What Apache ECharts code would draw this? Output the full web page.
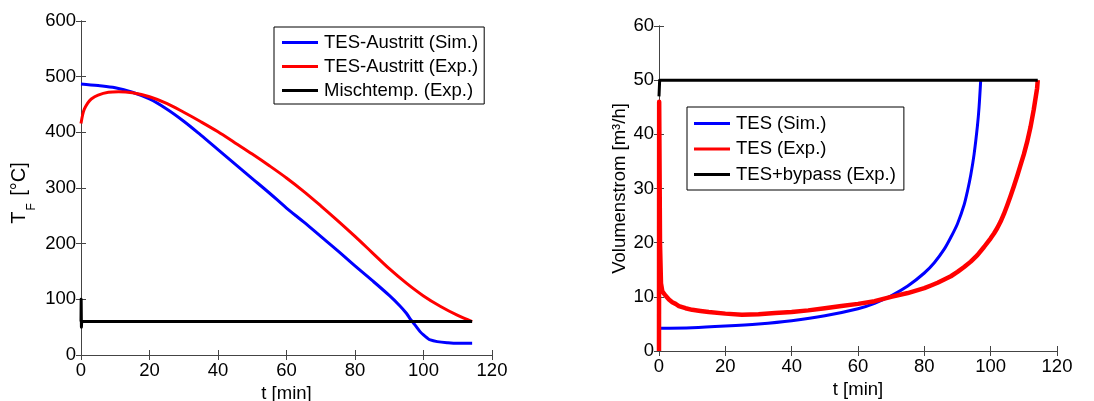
<!DOCTYPE html>
<html>
<head>
<meta charset="utf-8">
<title>TES Entladung</title>
<script src="https://cdn.jsdelivr.net/npm/echarts@6/dist/echarts.min.js"></script>
<style>
  html, body { margin: 0; padding: 0; background: #fff; }
  #chart { width: 1094px; height: 401px; }
</style>
</head>
<body>
<div id="chart"></div>
<script>
// Left panel: outlet temperature of the storage (TES) and mixing temperature
const tempSimT = [0, 5, 10, 15, 20, 25, 30, 35, 40, 45, 50, 55, 60, 65, 70, 75, 80, 85, 90, 93, 95, 96, 97, 98, 99, 100, 101, 102, 104, 107, 110, 114.2];
const tempSimV = [487, 484, 480, 472, 460, 442, 420, 395, 369, 343, 317, 291, 264, 239, 213, 187, 160, 134, 107, 89, 75, 66, 58, 50, 42, 36, 31, 27, 24, 22, 21, 21];

const tempExpT = [0, 0.5, 1, 2, 3, 5, 8, 11, 15, 20, 25, 30, 35, 40, 45, 50, 55, 60, 65, 70, 75, 80, 85, 90, 95, 100, 105, 110, 114.2];
const tempExpV = [416, 432, 442, 453, 460, 467, 472, 473, 471, 464, 452, 436, 419, 401, 381, 361, 340, 318, 294, 268, 241, 213, 184, 155, 129, 106, 87, 71, 60];

const mixT = [0, 0.05, 0.12, 0.2, 114.2];
const mixV = [60, 100, 50, 60, 60];

// Right panel: volume flow through the storage and total flow incl. bypass
const flowSimT = [0, 10, 20, 30, 40, 50, 60, 65, 70, 75, 80, 83, 86, 88, 90, 92, 93, 94, 95, 96, 96.5, 97];
const flowSimV = [4.2, 4.3, 4.6, 5.0, 5.6, 6.5, 7.8, 8.8, 10.2, 12.0, 14.4, 16.3, 18.8, 21.0, 23.5, 27.0, 29.5, 32.5, 36.3, 41.5, 45.0, 50.0];

const flowExpT = [0, 0.05, 0.3, 0.6, 1, 1.5, 2, 3, 4, 5, 6, 8, 10, 12.5, 15, 20, 25, 30, 35, 40, 45, 50, 55, 60, 65, 70, 75, 80, 82, 84, 86, 88, 90, 92, 94, 96, 98, 100, 101, 102, 103, 104, 105, 106, 107, 108, 109, 110, 111, 112, 113, 114, 114.2];
const flowExpV = [0, 46, 20, 12.5, 11, 10.6, 10.2, 9.5, 9.0, 8.7, 8.3, 7.9, 7.6, 7.4, 7.2, 6.9, 6.7, 6.8, 7.0, 7.2, 7.5, 7.9, 8.3, 8.7, 9.2, 10.0, 10.7, 11.6, 12.1, 12.6, 13.2, 13.8, 14.6, 15.5, 16.5, 17.7, 19.2, 20.8, 21.7, 22.7, 23.9, 25.3, 26.9, 28.6, 30.4, 32.3, 34.3, 36.3, 38.6, 41.3, 44.6, 48.5, 50];

const flowTotT = [0, 0.2, 114.2];
const flowTotV = [47, 50, 50];

const xTicks = { min: 0, max: 120, interval: 20 };
const tempTicks = { min: 0, max: 600, interval: 100 };
const flowTicks = { min: 0, max: 60, interval: 10 };

const pairs = (xs, ys) => xs.map((x, i) => [x, ys[i]]);

const FONT = 'Liberation Sans, Arial, sans-serif';
const AXIS_COLOR = '#444';

function mainX(grid, ticks, nameGap) {
  return {
    type: 'value', gridIndex: grid, position: 'bottom',
    min: ticks.min, max: ticks.max, interval: ticks.interval,
    name: 't [min]', nameLocation: 'middle', nameGap: nameGap,
    nameTextStyle: { fontFamily: FONT, fontSize: 18.5, color: '#000' },
    axisLine: { show: true, lineStyle: { color: AXIS_COLOR, width: 1 } },
    axisTick: { show: true, inside: true, length: 5, lineStyle: { color: AXIS_COLOR } },
    axisLabel: { fontFamily: FONT, fontSize: 18.5, color: '#000', margin: 6 },
    splitLine: { show: false }
  };
}
function mirrorX(grid, ticks) {
  return {
    type: 'value', gridIndex: grid, position: 'top',
    min: ticks.min, max: ticks.max, interval: ticks.interval,
    axisLine: { show: true, lineStyle: { color: AXIS_COLOR, width: 1 } },
    axisTick: { show: true, inside: true, length: 5, lineStyle: { color: AXIS_COLOR } },
    axisLabel: { show: false }, splitLine: { show: false }
  };
}
function mainY(grid, ticks, name, nameGap, nameStyle) {
  return {
    type: 'value', gridIndex: grid, position: 'left',
    min: ticks.min, max: ticks.max, interval: ticks.interval,
    name: name, nameLocation: 'middle', nameGap: nameGap, nameRotate: 90,
    nameTextStyle: nameStyle,
    axisLine: { show: true, lineStyle: { color: AXIS_COLOR, width: 1 } },
    axisTick: { show: true, inside: true, length: 5, lineStyle: { color: AXIS_COLOR } },
    axisLabel: { fontFamily: FONT, fontSize: 18.5, color: '#000', margin: 5 },
    splitLine: { show: false }
  };
}
function mirrorY(grid, ticks) {
  return {
    type: 'value', gridIndex: grid, position: 'right',
    min: ticks.min, max: ticks.max, interval: ticks.interval,
    axisLine: { show: true, lineStyle: { color: AXIS_COLOR, width: 1 } },
    axisTick: { show: true, inside: true, length: 5, lineStyle: { color: AXIS_COLOR } },
    axisLabel: { show: false }, splitLine: { show: false }
  };
}
function line(name, data, color, width, xi, yi, smooth) {
  return {
    name: name, type: 'line', data: data,
    xAxisIndex: xi, yAxisIndex: yi,
    showSymbol: false, symbol: 'none', smooth: smooth,
    lineStyle: { color: color, width: width, join: 'round' }, itemStyle: { color: color },
    animation: false, z: 3
  };
}
function legend(names, left, top, gap, padding) {
  return {
    data: names, orient: 'vertical', left: left, top: top,
    icon: 'rect', itemWidth: 36, itemHeight: 3, itemGap: gap,
    padding: padding, borderColor: '#000', borderWidth: 1, backgroundColor: '#fff',
    selectedMode: false,
    textStyle: { fontFamily: FONT, fontSize: 18.5, color: '#000', lineHeight: 18, padding: [0, 0, 0, 1] }
  };
}

const chart = echarts.init(document.getElementById('chart'), null, { renderer: 'canvas' });
chart.setOption({
  backgroundColor: '#fff',
  animation: false,
  grid: [
    { left: 81, top: 21, width: 411, height: 334, outerBoundsMode: 'none', containLabel: false },
    { left: 659, top: 26, width: 398, height: 325, outerBoundsMode: 'none', containLabel: false }
  ],
  xAxis: [mainX(0, xTicks, 28), mirrorX(0, xTicks), mainX(1, xTicks, 27), mirrorX(1, xTicks)],
  yAxis: [
    mainY(0, tempTicks, '{t|T}{s|F}{t| [°C]}', 50, {
      fontFamily: FONT, color: '#000', padding: [0, 10, 0, 0],
      rich: {
        t: { fontFamily: FONT, fontSize: 20, lineHeight: 22, verticalAlign: 'top', color: '#000' },
        s: { fontFamily: FONT, fontSize: 12, lineHeight: 12, verticalAlign: 'top', padding: [17, 2, 0, 1], color: '#000' }
      }
    }),
    mirrorY(0, tempTicks),
    mainY(1, flowTicks, 'Volumenstrom [m³/h]', 28, { fontFamily: FONT, fontSize: 18.5, color: '#000' }),
    mirrorY(1, flowTicks)
  ],
  legend: [
    legend(['TES-Austritt (Sim.)', 'TES-Austritt (Exp.)', 'Mischtemp. (Exp.)'], 274, 27, 5, [6, 6, 4, 8]),
    legend(['TES (Sim.)', 'TES (Exp.)', 'TES+bypass (Exp.)'], 687, 107, 6.5, [7, 8, 6, 7])
  ],
  series: [
    line('TES-Austritt (Sim.)', pairs(tempSimT, tempSimV), '#0000ff', 3, 0, 0, 0.35),
    line('TES-Austritt (Exp.)', pairs(tempExpT, tempExpV), '#ff0000', 3, 0, 0, 0.35),
    line('Mischtemp. (Exp.)', pairs(mixT, mixV), '#000000', 3, 0, 0, false),
    line('TES (Sim.)', pairs(flowSimT, flowSimV), '#0000ff', 3, 2, 2, 0.3),
    line('TES (Exp.)', pairs(flowExpT, flowExpV), '#ff0000', 4.5, 2, 2, false),
    line('TES+bypass (Exp.)', pairs(flowTotT, flowTotV), '#000000', 3, 2, 2, false)
  ]
});
</script>
</body>
</html>
